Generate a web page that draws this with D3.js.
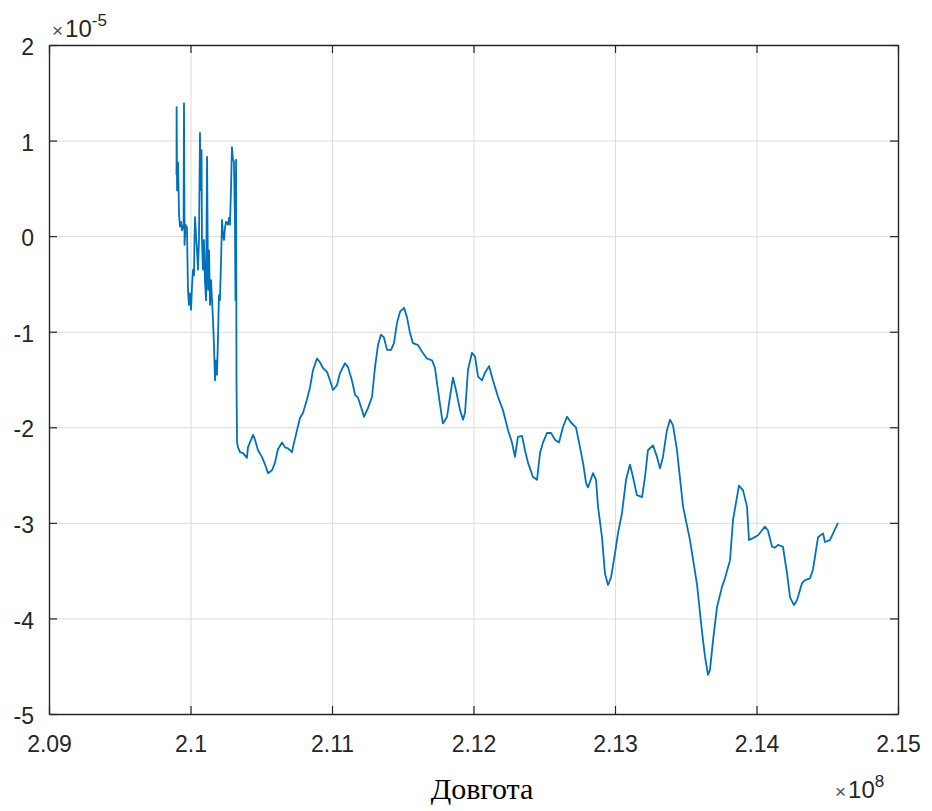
<!DOCTYPE html>
<html>
<head>
<meta charset="utf-8">
<script src="https://cdn.jsdelivr.net/npm/d3@7"></script>
<style>
  html, body { margin: 0; padding: 0; background: #ffffff; }
  svg { display: block; }
  .tick text { font-family: "Liberation Sans", Arial, Helvetica, sans-serif; }
</style>
</head>
<body>
<script>
// Longitude, in units of 1e8
const lon = [
  2.09901, 2.09902, 2.09905, 2.09912, 2.09919, 2.09926, 2.09933, 2.09940, 2.09951, 2.09954,
  2.09958, 2.09965, 2.09975, 2.09982, 2.09989, 2.09996, 2.10004, 2.10011, 2.10018, 2.10025,
  2.10028, 2.10032, 2.10039, 2.10046, 2.10053, 2.10060, 2.10067, 2.10071, 2.10078, 2.10081,
  2.10088, 2.10095, 2.10102, 2.10110, 2.10117, 2.10124, 2.10131, 2.10138, 2.10145, 2.10152,
  2.10159, 2.10166, 2.10173, 2.10180, 2.10187, 2.10194, 2.10201, 2.10208, 2.10216, 2.10223,
  2.10230, 2.10237, 2.10244, 2.10251, 2.10265, 2.10272, 2.10279, 2.10286, 2.10293, 2.10300,
  2.10307, 2.10314, 2.10318, 2.10322, 2.10325, 2.10329,
  2.10336, 2.10350, 2.10371, 2.10399, 2.10406, 2.10442, 2.10456, 2.10477, 2.10505, 2.10527,
  2.10548, 2.10576, 2.10597, 2.10618, 2.10647, 2.10668, 2.10689, 2.10717, 2.10724, 2.10753,
  2.10774, 2.10795, 2.10823, 2.10845, 2.10866, 2.10894, 2.10915, 2.10936, 2.10965, 2.10986,
  2.11007, 2.11035, 2.11057, 2.11092, 2.11113, 2.11141, 2.11163, 2.11184, 2.11212, 2.11226,
  2.11254, 2.11283, 2.11304, 2.11325, 2.11346, 2.11367, 2.11389, 2.11417, 2.11438, 2.11459,
  2.11481, 2.11502, 2.11509, 2.11530, 2.11551, 2.11572, 2.11608, 2.11636, 2.11671, 2.11707,
  2.11728, 2.11749, 2.11777, 2.11784, 2.11813, 2.11834, 2.11855, 2.11876, 2.11905, 2.11926,
  2.11940, 2.11961, 2.11989,
  2.12011, 2.12032, 2.12060, 2.12081, 2.12110, 2.12138, 2.12173, 2.12208, 2.12244, 2.12272,
  2.12293, 2.12314, 2.12343, 2.12364, 2.12385, 2.12420, 2.12449, 2.12470, 2.12491, 2.12519,
  2.12548, 2.12576, 2.12604, 2.12632, 2.12661, 2.12689, 2.12724, 2.12746, 2.12774, 2.12795,
  2.12809, 2.12845, 2.12866, 2.12880, 2.12908, 2.12929, 2.12951, 2.12972,
  2.13000, 2.13021, 2.13049, 2.13078, 2.13106, 2.13127, 2.13155, 2.13191, 2.13212, 2.13233,
  2.13269, 2.13297, 2.13318, 2.13339, 2.13367, 2.13389, 2.13410, 2.13438, 2.13481, 2.13530,
  2.13580, 2.13615, 2.13636, 2.13657, 2.13671, 2.13693, 2.13721, 2.13756, 2.13777, 2.13813,
  2.13834, 2.13862, 2.13876, 2.13905, 2.13933, 2.13947, 2.13975,
  2.14011, 2.14060, 2.14081, 2.14110, 2.14131, 2.14152, 2.14187, 2.14216, 2.14237, 2.14265,
  2.14286, 2.14322, 2.14343, 2.14378, 2.14399, 2.14435, 2.14470, 2.14484, 2.14519, 2.14541,
  2.14576
];

// Measured quantity, in units of 1e-5
const value = [
  0.64, 1.35, 0.48, 0.77, 0.22, 0.10, 0.15, 0.06, 0.12, 1.39,
  -0.09, 0.12, 0.09, -0.56, -0.72, -0.60, -0.77, -0.51, -0.35, -0.41,
  -0.04, 0.20, 0.01, -0.15, -0.35, -0.04, 1.08, 0.48, 0.90, -0.04,
  -0.35, -0.04, -0.46, -0.67, 0.83, -0.56, -0.15, -0.72, -0.46, -0.67,
  -0.88, -1.14, -1.51, -1.30, -1.45, -1.09, -0.62, -0.67, -0.25, 0.17,
  0.01, -0.04, 0.09, 0.15, 0.12, 0.19, 0.12, 0.48, 0.93, 0.80,
  0.78, 0.17, -0.67, 0.80, -1.51, -2.16,
  -2.21, -2.26, -2.27, -2.32, -2.21, -2.08, -2.13, -2.24, -2.31, -2.39,
  -2.48, -2.45, -2.37, -2.23, -2.16, -2.21, -2.22, -2.26, -2.21, -2.03,
  -1.90, -1.85, -1.71, -1.58, -1.40, -1.28, -1.32, -1.38, -1.42, -1.51,
  -1.61, -1.56, -1.43, -1.33, -1.37, -1.51, -1.66, -1.69, -1.82, -1.89,
  -1.80, -1.68, -1.37, -1.14, -1.03, -1.06, -1.19, -1.19, -1.12, -0.91,
  -0.79, -0.76, -0.75, -0.85, -1.01, -1.12, -1.14, -1.21, -1.28, -1.30,
  -1.38, -1.61, -1.90, -1.96, -1.89, -1.68, -1.48, -1.61, -1.82, -1.92,
  -1.85, -1.40, -1.22,
  -1.26, -1.47, -1.51, -1.43, -1.36, -1.51, -1.68, -1.82, -2.03, -2.16,
  -2.31, -2.10, -2.09, -2.24, -2.37, -2.52, -2.55, -2.27, -2.16, -2.06,
  -2.06, -2.13, -2.16, -2.00, -1.89, -1.95, -2.00, -2.16, -2.37, -2.58,
  -2.63, -2.48, -2.55, -2.83, -3.15, -3.53, -3.65, -3.57,
  -3.32, -3.11, -2.90, -2.55, -2.39, -2.52, -2.71, -2.73, -2.52, -2.24,
  -2.19, -2.31, -2.43, -2.31, -2.03, -1.92, -1.98, -2.24, -2.83, -3.18,
  -3.65, -4.14, -4.40, -4.59, -4.54, -4.23, -3.88, -3.67, -3.58, -3.39,
  -2.97, -2.73, -2.61, -2.66, -2.83, -3.18, -3.16,
  -3.13, -3.04, -3.08, -3.25, -3.26, -3.23, -3.25, -3.53, -3.78, -3.86,
  -3.81, -3.63, -3.60, -3.58, -3.49, -3.15, -3.11, -3.20, -3.18, -3.11,
  -3.00
];

const xTicks = [2.09, 2.10, 2.11, 2.12, 2.13, 2.14, 2.15];
const xTickLabels = ["2.09", "2.1", "2.11", "2.12", "2.13", "2.14", "2.15"];
const yTicks = [2, 1, 0, -1, -2, -3, -4, -5];
const yTickLabels = ["2", "1", "0", "-1", "-2", "-3", "-4", "-5"];
const xLabel = "Довгота";
const xExponent = "8";
const yExponent = "-5";

const W = 932, H = 811;
const margin = { left: 49, right: 34, top: 45, bottom: 97 };
const innerW = W - margin.left - margin.right;
const innerH = H - margin.top - margin.bottom;

const axisColor = "#262626";
const gridColor = "#dcdcdc";
const lineColor = "#0072BD";
const sansFont = '"Liberation Sans", Arial, Helvetica, sans-serif';
const tickFontSize = 23;

const svg = d3.select("body").append("svg")
  .attr("width", W).attr("height", H);

const g = svg.append("g")
  .attr("transform", `translate(${margin.left},${margin.top})`);

const x = d3.scaleLinear().domain([2.09, 2.15]).range([0, innerW]);
const y = d3.scaleLinear().domain([-5, 2]).range([innerH, 0]);

// Grid lines
g.append("g")
  .attr("class", "grid-x")
  .attr("transform", `translate(0,${innerH})`)
  .call(d3.axisBottom(x).tickValues(xTicks).tickSize(-innerH).tickFormat(""))
  .call(s => s.select(".domain").remove())
  .call(s => s.selectAll("line").attr("stroke", gridColor).attr("stroke-width", 1));

g.append("g")
  .attr("class", "grid-y")
  .call(d3.axisLeft(y).tickValues(yTicks).tickSize(-innerW).tickFormat(""))
  .call(s => s.select(".domain").remove())
  .call(s => s.selectAll("line").attr("stroke", gridColor).attr("stroke-width", 1));

// Data line
g.append("clipPath").attr("id", "plot-clip")
  .append("rect").attr("width", innerW).attr("height", innerH);

const line = d3.line()
  .x((d, i) => x(lon[i]))
  .y((d, i) => y(value[i]));

g.append("path")
  .datum(value)
  .attr("clip-path", "url(#plot-clip)")
  .attr("fill", "none")
  .attr("stroke", lineColor)
  .attr("stroke-width", 1.8)
  .attr("stroke-linejoin", "round")
  .attr("d", line);

// Axes with inward ticks on all four sides
const tickLen = 8;

const styleAxis = s => {
  s.select(".domain").attr("stroke", axisColor).attr("stroke-width", 1.4);
  s.selectAll(".tick line").attr("stroke", axisColor).attr("stroke-width", 1.2);
  s.selectAll(".tick text")
    .attr("fill", axisColor)
    .style("font-size", tickFontSize + "px")
    .style("font-family", sansFont);
};

g.append("g")
  .attr("transform", `translate(0,${innerH})`)
  .call(d3.axisBottom(x).tickValues(xTicks)
    .tickFormat((d, i) => xTickLabels[i])
    .tickSizeInner(-tickLen).tickSizeOuter(0).tickPadding(22))
  .call(styleAxis);

g.append("g")
  .call(d3.axisLeft(y).tickValues(yTicks)
    .tickFormat((d, i) => yTickLabels[i])
    .tickSizeInner(-tickLen).tickSizeOuter(0).tickPadding(15))
  .call(styleAxis)
  .call(s => s.selectAll(".tick text").attr("dy", "0.42em"));

g.append("g")
  .call(d3.axisTop(x).tickValues(xTicks).tickFormat("")
    .tickSizeInner(-tickLen).tickSizeOuter(0))
  .call(styleAxis);

g.append("g")
  .attr("transform", `translate(${innerW},0)`)
  .call(d3.axisRight(y).tickValues(yTicks).tickFormat("")
    .tickSizeInner(-tickLen).tickSizeOuter(0))
  .call(styleAxis);

// Exponent labels: a thin multiplication sign, the base and a raised power
function exponentLabel(x0, baseline, power) {
  const t = svg.append("text")
    .attr("x", x0)
    .attr("y", baseline)
    .attr("fill", axisColor)
    .style("font-family", sansFont);
  t.append("tspan").style("font-size", "19px").attr("fill", "#555555").text("×");
  t.append("tspan").attr("dx", 2).style("font-size", "24px").text("10");
  t.append("tspan").attr("dy", -11).style("font-size", "17px").text(power);
}
exponentLabel(52, 37, yExponent);
exponentLabel(835, 798, xExponent);

// Axis title
svg.append("text")
  .attr("x", 482)
  .attr("y", 799)
  .attr("text-anchor", "middle")
  .attr("fill", "#000000")
  .style("font-family", '"Liberation Serif", "Times New Roman", serif')
  .style("font-size", "30px")
  .text(xLabel);
</script>
</body>
</html>
